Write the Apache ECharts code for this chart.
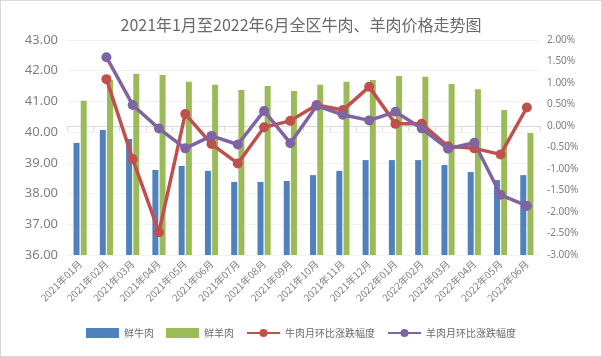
<!DOCTYPE html>
<html><head><meta charset="utf-8">
<script src="https://cdn.jsdelivr.net/npm/echarts@6/dist/echarts.min.js"></script>
<style>html,body{margin:0;padding:0;background:#fff}#c{width:600px;height:355px;border:1px solid #D9D9D9}</style>
</head><body><div id="c"></div>
<script>
var categories = ['2021年01月','2021年02月','2021年03月','2021年04月','2021年05月','2021年06月','2021年07月','2021年08月','2021年09月','2021年10月','2021年11月','2021年12月','2022年01月','2022年02月','2022年03月','2022年04月','2022年05月','2022年06月'];
var beefPrice = [39.65,40.07,39.78,38.77,38.90,38.74,38.38,38.38,38.41,38.60,38.74,39.09,39.09,39.09,38.93,38.70,38.44,38.60];
var lambPrice = [41.02,41.70,41.90,41.86,41.64,41.54,41.37,41.50,41.34,41.54,41.64,41.70,41.83,41.80,41.57,41.40,40.72,39.97];
var beefMoM = [null,1.09,-0.77,-2.47,0.28,-0.42,-0.87,-0.03,0.12,0.49,0.37,0.91,0.05,0.05,-0.47,-0.52,-0.66,0.43];
var lambMoM = [null,1.60,0.49,-0.06,-0.52,-0.23,-0.43,0.35,-0.40,0.47,0.26,0.13,0.33,-0.06,-0.53,-0.39,-1.60,-1.86];

var chart = echarts.init(document.getElementById('c'));
var txt = '#7F7F7F';
chart.setOption({
  animation:false,
  title:{text:'2021年1月至2022年6月全区牛肉、羊肉价格走势图',left:'center',top:11,
    textStyle:{fontSize:16,fontWeight:'normal',color:'#6A6A6A',fontFamily:'Noto Sans CJK SC'}},
  grid:{left:66,right:61,top:39,bottom:101},
  legend:{bottom:13,left:'center',itemWidth:33,itemHeight:10,itemGap:12,
    textStyle:{fontSize:10,color:'#6A6A6A',fontFamily:'Noto Sans CJK SC'},
    data:[{name:'鲜牛肉',icon:'rect'},{name:'鲜羊肉',icon:'rect'},'牛肉月环比涨跌幅度','羊肉月环比涨跌幅度']},
  xAxis:{type:'category',data:categories,
    axisLine:{lineStyle:{color:'#D9D9D9'}},
    axisTick:{show:true,length:5,lineStyle:{color:'#D9D9D9'}},
    axisLabel:{rotate:45,fontSize:10,color:txt,interval:0,margin:7,fontFamily:'Noto Sans CJK SC'}},
  yAxis:[
    {type:'value',min:36,max:43,interval:1,
      axisLabel:{formatter:function(v){return v.toFixed(2);},fontSize:13,color:txt,margin:9,fontFamily:'Noto Sans'},
      splitLine:{lineStyle:{color:'#F2F2F2'}},axisLine:{show:false},axisTick:{show:false}},
    {type:'value',min:-3,max:2,interval:0.5,
      axisLabel:{formatter:function(v){return v.toFixed(2)+'%';},fontSize:10,color:txt,margin:7,fontFamily:'Noto Sans'},
      splitLine:{show:false},axisLine:{show:false},axisTick:{show:false}}
  ],
  series:[
    {name:'鲜牛肉',type:'bar',data:beefPrice,barWidth:6,barGap:'20%',itemStyle:{color:'#4F81BD'}},
    {name:'鲜羊肉',type:'bar',data:lambPrice,barWidth:6,barGap:'20%',itemStyle:{color:'#9BBB59'}},
    {name:'牛肉月环比涨跌幅度',type:'line',yAxisIndex:1,data:beefMoM,symbol:'circle',symbolSize:10,
      lineStyle:{width:3.5,color:'#C0504D'},itemStyle:{color:'#C0504D'}},
    {name:'羊肉月环比涨跌幅度',type:'line',yAxisIndex:1,data:lambMoM,symbol:'circle',symbolSize:10,
      lineStyle:{width:3.5,color:'#8064A2'},itemStyle:{color:'#8064A2'}}
  ]
});
</script></body></html>
